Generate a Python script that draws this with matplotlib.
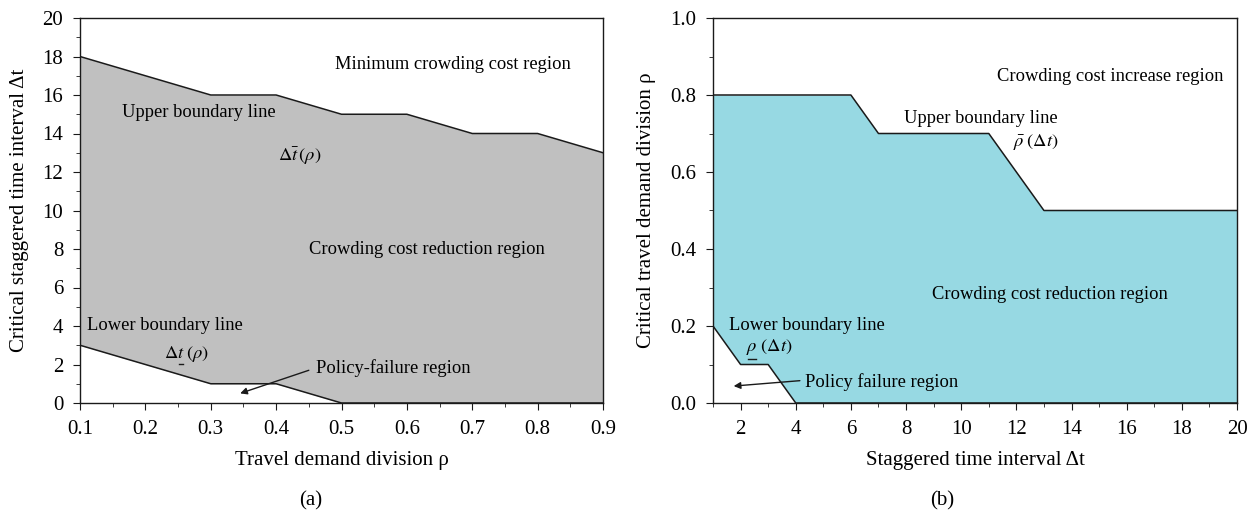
import matplotlib
matplotlib.use("Agg")
import matplotlib.pyplot as plt
from matplotlib.ticker import MultipleLocator
from matplotlib.lines import Line2D

plt.rcParams['font.family'] = ['Liberation Serif', 'DejaVu Serif']
plt.rcParams['mathtext.fontset'] = 'stix'

# Panel (a)
rho_upper = [0.1, 0.3, 0.4, 0.5, 0.6, 0.7, 0.8, 0.9]
dt_upper = [18, 16, 16, 15, 15, 14, 14, 13]
rho_lower = [0.1, 0.3, 0.4, 0.5, 0.6, 0.7, 0.8, 0.9]
dt_lower = [3, 1, 1, 0, 0, 0, 0, 0]

# Panel (b)
dt_b = [1, 2, 3, 4, 6, 7, 11, 13, 20]
rho_b_upper = [0.8, 0.8, 0.8, 0.8, 0.8, 0.7, 0.7, 0.5, 0.5]
rho_b_lower = [0.2, 0.1, 0.1, 0.0, 0.0, 0.0, 0.0, 0.0, 0.0]

fig = plt.figure(figsize=(12.57, 5.13), dpi=100)
ax1 = fig.add_axes([80/1257, 110/513, 523/1257, 385/513])
ax2 = fig.add_axes([713/1257, 110/513, 524/1257, 385/513])

fs_tick = 15
fs_lab = 15
fs_txt = 13.3

# ---- (a)
ax1.fill_between(rho_upper, dt_lower, dt_upper, color='#c0c0c0', lw=0)
ax1.plot(rho_upper, dt_upper, color='#1a1a1a', lw=1.1)
ax1.plot(rho_lower, dt_lower, color='#1a1a1a', lw=1.1)
ax1.set_xlim(0.1, 0.9)
ax1.set_ylim(0, 20)
ax1.xaxis.set_minor_locator(MultipleLocator(0.05))
ax1.yaxis.set_major_locator(MultipleLocator(2))
ax1.yaxis.set_minor_locator(MultipleLocator(1))
ax1.set_xticks([0.1, 0.2, 0.3, 0.4, 0.5, 0.6, 0.7, 0.8, 0.9])
ax1.set_xticklabels(['0.1', '0.2', '0.3', '0.4', '0.5', '0.6', '0.7', '0.8', '0.9'])
ax1.set_xlabel('Travel demand division ρ', fontsize=fs_lab, labelpad=9)
ax1.set_ylabel('Critical staggered time interval Δt', fontsize=fs_lab, labelpad=10)

ax1.text(0.67, 17.6, 'Minimum crowding cost region', fontsize=fs_txt, ha='center', va='center')
ax1.text(0.282, 15.1, 'Upper boundary line', fontsize=fs_txt, ha='center', va='center')
ax1.text(0.436, 12.8, r'$\Delta\bar{t}\,(\rho)$', fontsize=fs_txt, ha='center', va='center')
ax1.text(0.63, 8.0, 'Crowding cost reduction region', fontsize=fs_txt, ha='center', va='center')
ax1.text(0.23, 4.0, 'Lower boundary line', fontsize=fs_txt, ha='center', va='center')
pa1 = ax1.text(0.228, 2.35, r'$\Delta$', fontsize=fs_txt, ha='left', va='baseline')
pb1 = ax1.text(0.228, 2.35, r'$t$', fontsize=fs_txt, ha='left', va='baseline')
pc1 = ax1.text(0.228, 2.35, r'$\,(\rho)$', fontsize=fs_txt, ha='left', va='baseline')
ax1.text(0.461, 1.82, 'Policy-failure region', fontsize=fs_txt, ha='left', va='center')
ax1.annotate('', xy=(0.345, 0.5), xytext=(0.45, 1.7),
             arrowprops=dict(arrowstyle='-|>', color='#1a1a1a', lw=1.0,
                             mutation_scale=10, shrinkA=0, shrinkB=0))

# ---- (b)
ax2.fill_between(dt_b, rho_b_lower, rho_b_upper, color='#97d9e3', lw=0)
ax2.plot(dt_b, rho_b_upper, color='#1a1a1a', lw=1.1)
ax2.plot(dt_b, rho_b_lower, color='#1a1a1a', lw=1.1)
ax2.set_xlim(1, 20)
ax2.set_ylim(0, 1.0)
ax2.xaxis.set_major_locator(MultipleLocator(2))
ax2.xaxis.set_minor_locator(MultipleLocator(1))
ax2.yaxis.set_minor_locator(MultipleLocator(0.1))
ax2.set_yticks([0.0, 0.2, 0.4, 0.6, 0.8, 1.0])
ax2.set_yticklabels(['0.0', '0.2', '0.4', '0.6', '0.8', '1.0'])
ax2.set_xlabel('Staggered time interval Δt', fontsize=fs_lab, labelpad=9)
ax2.set_ylabel('Critical travel demand division ρ', fontsize=fs_lab, labelpad=10)

ax2.text(15.4, 0.847, 'Crowding cost increase region', fontsize=fs_txt, ha='center', va='center')
ax2.text(10.7, 0.74, 'Upper boundary line', fontsize=fs_txt, ha='center', va='center')
ax2.text(12.7, 0.678, r'$\bar{\rho}\;(\Delta t)$', fontsize=fs_txt, ha='center', va='center')
ax2.text(13.2, 0.283, 'Crowding cost reduction region', fontsize=fs_txt, ha='center', va='center')
ax2.text(4.4, 0.2, 'Lower boundary line', fontsize=fs_txt, ha='center', va='center')
pb2 = ax2.text(2.2, 0.135, r'$\rho$', fontsize=fs_txt, ha='left', va='baseline')
pc2 = ax2.text(2.2, 0.135, r'$\;(\Delta t)$', fontsize=fs_txt, ha='left', va='baseline')
ax2.text(4.35, 0.055, 'Policy failure region', fontsize=fs_txt, ha='left', va='center')
ax2.annotate('', xy=(1.75, 0.044), xytext=(4.15, 0.058),
             arrowprops=dict(arrowstyle='-|>', color='#1a1a1a', lw=1.0,
                             mutation_scale=10, shrinkA=0, shrinkB=0))

for ax in (ax1, ax2):
    for sp in ax.spines.values():
        sp.set_color('#1a1a1a')
        sp.set_linewidth(1.0)
    ax.tick_params(which='both', direction='out', top=False, right=False,
                   labelsize=fs_tick, color='#1a1a1a')
    ax.tick_params(which='major', length=5, pad=7)
    ax.tick_params(which='minor', length=3)

fig.text(311/1257, 1 - 501/513, '(a)', fontsize=fs_lab, ha='center', va='center')
fig.text(942/1257, 1 - 501/513, '(b)', fontsize=fs_lab, ha='center', va='center')

# chain the pieces of the lower-boundary labels and underline the symbol
fig.canvas.draw()
renderer = fig.canvas.get_renderer()


def chain(pieces, underline_idx):
    for prev, nxt in zip(pieces[:-1], pieces[1:]):
        bb = prev.get_window_extent(renderer)
        ax = prev.axes
        nxt.set_x(ax.transData.inverted().transform((bb.x1 - 1, bb.y0))[0])
        fig.canvas.draw()
    bb = pieces[underline_idx].get_window_extent(renderer)
    y_line = bb.y0 - 2
    fig.add_artist(Line2D([bb.x0 + 1.5, bb.x1 - 1.5], [y_line, y_line],
                          transform=None, color='#1a1a1a', lw=1.0))


chain([pa1, pb1, pc1], 1)
chain([pb2, pc2], 0)

fig.savefig('out.png', dpi=100)
